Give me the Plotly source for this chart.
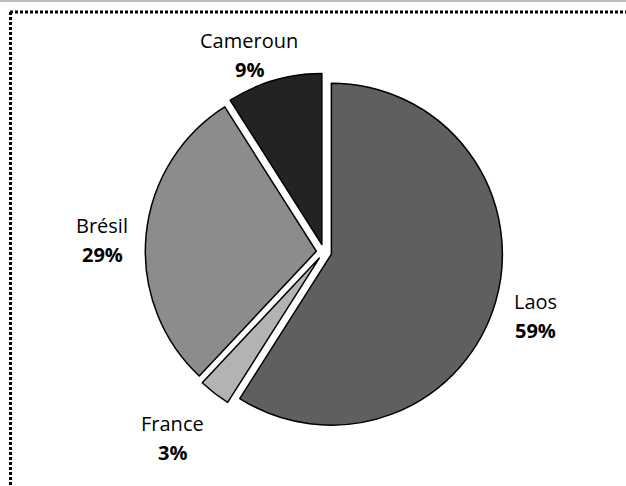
import plotly.graph_objects as go

# ---- data ----
countries = ["Laos", "France", "Brésil", "Cameroun"]
shares = [59, 3, 29, 9]

# ---- styles / layout ----
colors = ["#5f5f5f", "#b3b3b3", "#8c8c8c", "#232323"]
label_centers = [(535, 316), (172, 438), (102, 240), (249, 55)]  # pixels
W, H = 626, 486
PULL = 0.045
LINE_GAP = 29

# pie placement (pixels)
cx, cy, R = 324, 252, 171
half = R * (1 + PULL)
dom_x = [(cx - half) / W, (cx + half) / W]
dom_y = [1 - (cy + half) / H, 1 - (cy - half) / H]

fig = go.Figure(go.Pie(
    labels=countries,
    values=shares,
    sort=False,
    direction="clockwise",
    rotation=0,
    pull=[PULL] * len(shares),
    marker=dict(colors=colors, line=dict(color="black", width=1.5)),
    textinfo="none",
    hoverinfo="label+percent",
    showlegend=False,
    domain=dict(x=dom_x, y=dom_y),
))

total = sum(shares)
annotations = []
font = dict(family="Open Sans", size=20, color="black")
for name, v, (px, py) in zip(countries, shares, label_centers):
    pct = round(100 * v / total)
    for txt, dy in ((name, -LINE_GAP / 2), (f"<b>{pct}%</b>", LINE_GAP / 2)):
        annotations.append(dict(
            x=px / W, y=1 - (py + dy) / H, xref="paper", yref="paper",
            text=txt, showarrow=False,
            xanchor="center", yanchor="middle", align="center", font=font,
        ))

shapes = [
    dict(type="line", xref="paper", yref="paper", x0=0, x1=1,
         y0=1 - 1 / H, y1=1 - 1 / H, line=dict(color="#bdbdbd", width=2)),
    dict(type="line", xref="paper", yref="paper", x0=10 / W, x1=1,
         y0=1 - 12 / H, y1=1 - 12 / H, line=dict(color="black", width=3, dash="3px,2px")),
    dict(type="line", xref="paper", yref="paper", x0=10.5 / W, x1=10.5 / W,
         y0=1 - 12 / H, y1=0, line=dict(color="black", width=3, dash="3px,2px")),
]

fig.update_layout(
    width=W, height=H,
    margin=dict(l=0, r=0, t=0, b=0),
    paper_bgcolor="white", plot_bgcolor="white",
    annotations=annotations, shapes=shapes,
)

fig.write_html(
    "out.html",
    config={"displayModeBar": False},
    post_script="document.body.style.margin='0';document.body.style.overflow='hidden';",
)
